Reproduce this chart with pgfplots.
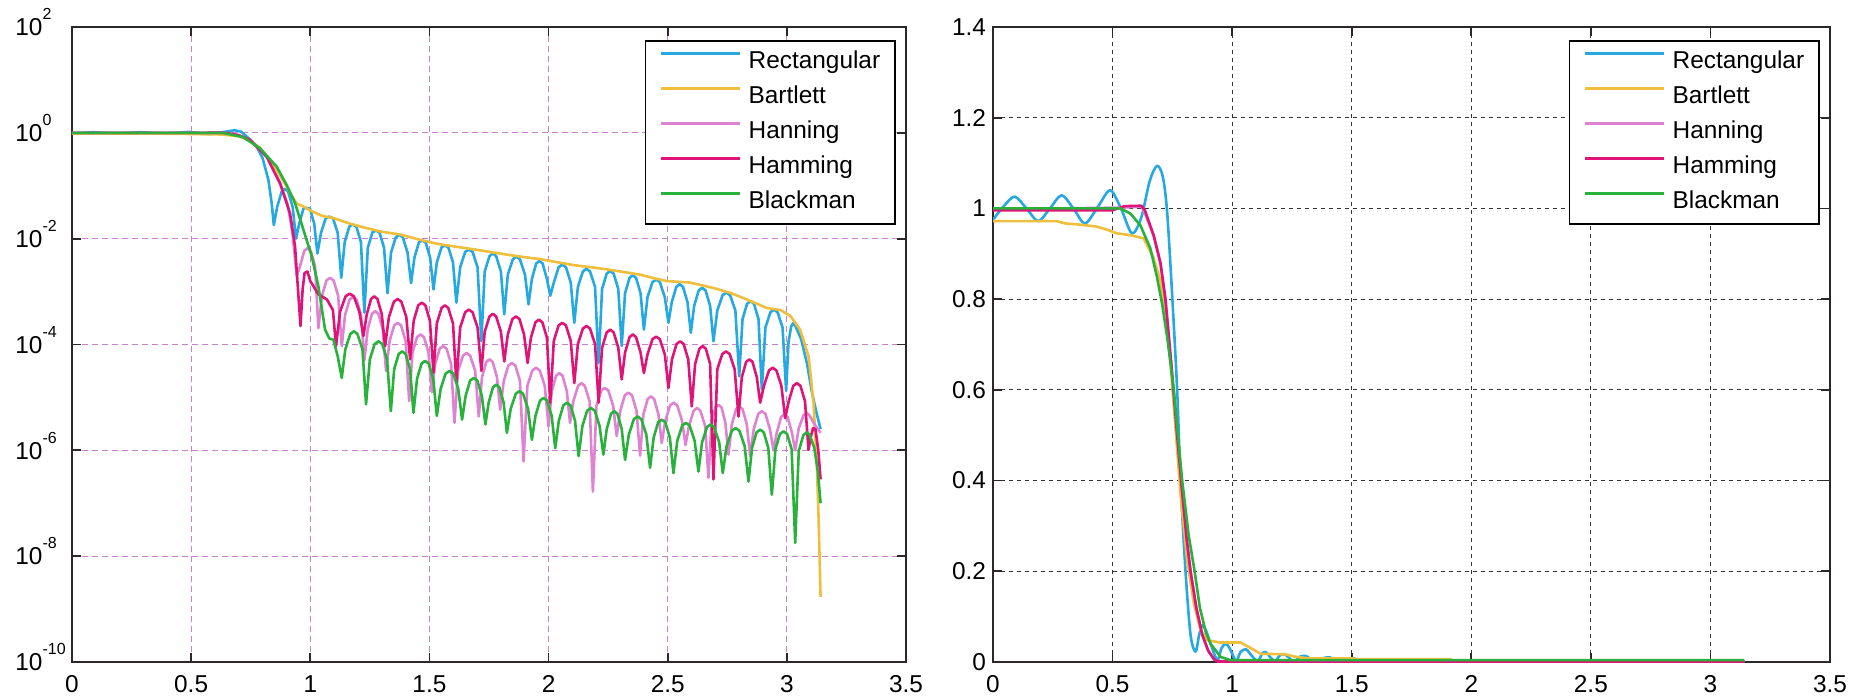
\documentclass[border=0pt]{standalone}
\usepackage{pgfplots}
\pgfplotsset{compat=1.18}
\usepackage{pgfplotstable}
\usepackage{fontspec}
\setmainfont{Liberation Sans}

\definecolor{cRect}{RGB}{38,168,224}
\definecolor{cBart}{RGB}{238,190,60}
\definecolor{cHann}{RGB}{222,130,210}
\definecolor{cHamm}{RGB}{222,20,120}
\definecolor{cBlack}{RGB}{40,178,60}
\definecolor{gridPink}{RGB}{200,130,205}
\definecolor{axisGray}{RGB}{45,40,40}

% ---------- magnitude responses, log scale ----------
\pgfplotstableread{
x y
0 0.975
0.09 1.026
0.19 0.972
0.29 1.029
0.385 0.967
0.49 1.04
0.58 0.945
0.683 1.12
0.71 1.05
0.733 0.85
0.755 0.70
0.775 0.55
0.80 0.33
0.824 0.13
0.838 0.047
0.847 0.018
0.861 3.98e-2
0.880 7.76e-2
0.8935 8.71e-2
0.907 7.76e-2
0.926 3.98e-2
0.940 1.0e-2
0.9535 1.91e-2
0.9715 3.72e-2
0.985 3.8e-2
0.9985 3.72e-2
1.0165 1.91e-2
1.030 5.25e-3
1.045 1.29e-2
1.065 2.45e-2
1.080 2.6e-2
1.095 2.45e-2
1.115 1.29e-2
1.130 1.82e-3
1.1445 8.71e-3
1.164 1.70e-2
1.1785 1.85e-2
1.193 1.70e-2
1.2125 8.71e-3
1.227 3.98e-4
1.2415 6.76e-3
1.261 1.32e-2
1.2755 1.42e-2
1.290 1.32e-2
1.3095 6.76e-3
1.324 9.33e-4
1.339 5.50e-3
1.359 1.07e-2
1.3735 1.17e-2
1.388 1.07e-2
1.408 5.50e-3
1.423 1.45e-3
1.437 4.37e-3
1.456 8.51e-3
1.470 9.2e-3
1.484 8.51e-3
1.503 4.37e-3
1.517 1.10e-3
1.531 3.55e-3
1.551 6.92e-3
1.565 7.4e-3
1.579 6.92e-3
1.599 3.55e-3
1.613 6.17e-4
1.629 2.88e-3
1.650 5.62e-3
1.6655 6.2e-3
1.681 5.62e-3
1.702 2.88e-3
1.718 1.15e-4
1.732 2.40e-3
1.752 4.68e-3
1.766 5.25e-3
1.780 4.68e-3
1.800 2.40e-3
1.814 3.72e-4
1.829 2.09e-3
1.850 4.07e-3
1.865 4.57e-3
1.880 4.07e-3
1.901 2.09e-3
1.916 5.75e-4
1.930 1.74e-3
1.948 3.39e-3
1.9615 3.80e-3
1.975 3.39e-3
1.993 1.74e-3
2.007 8.32e-4
2.022 1.48e-3
2.042 2.88e-3
2.0575 3.23e-3
2.073 2.88e-3
2.093 1.48e-3
2.108 2.57e-4
2.123 1.23e-3
2.144 2.40e-3
2.159 2.69e-3
2.174 2.40e-3
2.195 1.23e-3
2.210 4.47e-5
2.2245 1.12e-3
2.244 2.19e-3
2.2585 2.46e-3
2.273 2.19e-3
2.2925 1.12e-3
2.307 9.33e-5
2.321 9.33e-4
2.340 1.82e-3
2.3535 2.04e-3
2.367 1.82e-3
2.386 9.33e-4
2.400 1.91e-4
2.415 7.76e-4
2.436 1.51e-3
2.4515 1.69e-3
2.467 1.51e-3
2.488 7.76e-4
2.503 2.57e-4
2.517 6.31e-4
2.536 1.23e-3
2.550 1.38e-3
2.564 1.23e-3
2.583 6.31e-4
2.597 1.66e-4
2.611 5.37e-4
2.630 1.05e-3
2.6445 1.18e-3
2.659 1.05e-3
2.678 5.37e-4
2.692 1.15e-4
2.708 4.37e-4
2.730 8.51e-4
2.746 9.55e-4
2.762 8.51e-4
2.784 4.37e-4
2.800 2.51e-5
2.814 3.02e-4
2.833 5.89e-4
2.8475 6.61e-4
2.862 5.89e-4
2.881 3.02e-4
2.895 1.41e-5
2.910 2.09e-4
2.931 4.07e-4
2.946 4.57e-4
2.961 4.07e-4
2.982 2.09e-4
2.997 1.32e-5
3.007 1.12e-4
3.018 2.19e-4
3.026 2.51e-4
3.035 2.29e-4
3.060 1.26e-4
3.084 4.47e-5
3.105 1.26e-5
3.125 5.01e-6
3.1416 2.51e-6
}\rectL

\pgfplotstableread{
x y
0 0.972
0.27 0.970
0.35 0.965
0.45 0.958
0.52 0.945
0.63 0.93
0.70 0.86
0.746 0.72
0.789 0.52
0.817 0.36
0.859 0.20
0.90 0.098
0.925 0.062
0.943 0.046
0.97 0.041
1.0 0.034
1.05 0.027
1.097 0.0245
1.17 0.019
1.237 0.0158
1.30 0.0135
1.377 0.012
1.45 0.0098
1.517 0.0083
1.546 0.0078
1.616 0.0070
1.686 0.0063
1.755 0.0056
1.825 0.0050
1.895 0.0045
1.965 0.0041
2.035 0.0036
2.105 0.00316
2.175 0.0029
2.244 0.00263
2.314 0.00235
2.384 0.00209
2.44 0.0018
2.496 0.00158
2.594 0.00148
2.692 0.00117
2.762 0.00095
2.832 0.00071
2.916 0.00049
2.972 0.00045
3.014 0.00035
3.056 0.00019
3.091 6.0e-5
3.112 7.9e-6
3.126 5.0e-7
3.133 5.6e-8
3.1416 1.7e-9
}\bartL

\pgfplotstableread{
x y
0 0.996
0.55 1.0
0.62 1.004
0.65 0.99
0.70 0.90
0.746 0.74
0.817 0.355
0.873 0.110
0.905 0.045
0.925 0.013
0.943 1.95e-3
0.957 3.02e-3
0.975 5.89e-3
0.9885 6.61e-3
1.002 5.89e-3
1.020 3.02e-3
1.034 2.04e-4
1.049 8.32e-4
1.068 1.62e-3
1.083 1.82e-3
1.098 1.62e-3
1.117 8.32e-4
1.132 9.33e-5
1.146 3.63e-4
1.165 7.08e-4
1.1795 7.94e-4
1.194 7.08e-4
1.213 3.63e-4
1.227 5.01e-5
1.241 1.95e-4
1.259 3.80e-4
1.2725 4.27e-4
1.286 3.80e-4
1.304 1.95e-4
1.318 3.16e-5
1.333 1.17e-4
1.352 2.29e-4
1.3665 2.57e-4
1.381 2.29e-4
1.400 1.17e-4
1.415 8.51e-6
1.429 7.08e-5
1.448 1.38e-4
1.4625 1.55e-4
1.477 1.38e-4
1.496 7.08e-5
1.510 1.26e-5
1.524 4.27e-5
1.543 8.32e-5
1.5575 9.33e-5
1.572 8.32e-5
1.591 4.27e-5
1.605 3.31e-6
1.620 3.16e-5
1.641 6.17e-5
1.656 6.92e-5
1.671 6.17e-5
1.692 3.16e-5
1.707 4.37e-6
1.7205 2.40e-5
1.7385 4.68e-5
1.752 5.25e-5
1.7655 4.68e-5
1.7835 2.40e-5
1.797 5.89e-6
1.812 2.04e-5
1.831 3.98e-5
1.846 4.47e-5
1.861 3.98e-5
1.880 2.04e-5
1.895 6.17e-7
1.911 1.66e-5
1.932 3.24e-5
1.9475 3.63e-5
1.963 3.24e-5
1.984 1.66e-5
2.000 2.82e-6
2.0135 1.32e-5
2.0315 2.57e-5
2.045 2.88e-5
2.0585 2.57e-5
2.0765 1.32e-5
2.090 3.31e-6
2.104 8.51e-6
2.124 1.66e-5
2.138 1.86e-5
2.152 1.66e-5
2.172 8.51e-6
2.186 1.66e-7
2.201 6.92e-6
2.221 1.35e-5
2.236 1.51e-5
2.251 1.35e-5
2.271 6.92e-6
2.286 1.86e-6
2.301 5.62e-6
2.320 1.10e-5
2.335 1.23e-5
2.350 1.10e-5
2.369 5.62e-6
2.384 7.94e-7
2.398 4.79e-6
2.416 9.33e-6
2.4295 1.05e-5
2.443 9.33e-6
2.461 4.79e-6
2.475 1.38e-6
2.490 3.63e-6
2.510 7.08e-6
2.525 7.94e-6
2.540 7.08e-6
2.560 3.63e-6
2.575 1.26e-6
2.589 2.88e-6
2.609 5.62e-6
2.623 6.31e-6
2.637 5.62e-6
2.657 2.88e-6
2.671 3.02e-7
2.684 3.31e-6
2.700 6.46e-6
2.713 7.24e-6
2.726 6.46e-6
2.742 3.31e-6
2.755 8.32e-7
2.769 3.09e-6
2.787 6.03e-6
2.8005 6.76e-6
2.814 6.03e-6
2.832 3.09e-6
2.846 7.76e-7
2.861 2.51e-6
2.880 4.90e-6
2.895 5.50e-6
2.910 4.90e-6
2.929 2.51e-6
2.944 1.0e-6
2.958 2.19e-6
2.976 4.27e-6
2.9895 4.79e-6
3.003 4.27e-6
3.021 2.19e-6
3.035 1.0e-6
3.050 2.63e-6
3.070 4.57e-6
3.0825 5.13e-6
3.095 4.57e-6
3.115 3.16e-6
3.1416 2.14e-6
}\hannL

\pgfplotstableread{
x y
0 0.996
0.55 1.0
0.62 1.006
0.65 0.99
0.70 0.90
0.746 0.74
0.817 0.355
0.873 0.112
0.915 0.030
0.936 7.2e-3
0.959 2.24e-4
0.968 1.12e-3
0.976 2.24e-3
0.988 2.40e-3
1.000 1.58e-3
1.034 8.91e-4
1.070 7.08e-4
1.095 4.47e-4
1.108 9.33e-5
1.125 4.17e-4
1.148 8.13e-4
1.1655 9.12e-4
1.183 8.13e-4
1.206 4.17e-4
1.223 1.45e-4
1.237 3.72e-4
1.255 7.24e-4
1.2685 8.13e-4
1.282 7.24e-4
1.300 3.72e-4
1.314 9.33e-5
1.330 3.31e-4
1.351 6.46e-4
1.3665 7.24e-4
1.382 6.46e-4
1.403 3.31e-4
1.419 5.25e-5
1.434 2.82e-4
1.453 5.50e-4
1.468 6.17e-4
1.483 5.50e-4
1.502 2.82e-4
1.517 2.95e-5
1.531 2.51e-4
1.551 4.90e-4
1.565 5.50e-4
1.579 4.90e-4
1.599 2.51e-4
1.613 1.86e-5
1.629 2.09e-4
1.650 4.07e-4
1.6655 4.57e-4
1.681 4.07e-4
1.702 2.09e-4
1.718 3.16e-5
1.732 1.74e-4
1.752 3.39e-4
1.766 3.80e-4
1.780 3.39e-4
1.800 1.74e-4
1.814 4.79e-5
1.829 1.55e-4
1.848 3.02e-4
1.863 3.39e-4
1.878 3.02e-4
1.897 1.55e-4
1.912 4.47e-5
1.926 1.35e-4
1.945 2.63e-4
1.9595 2.95e-4
1.974 2.63e-4
1.993 1.35e-4
2.007 7.94e-6
2.022 1.17e-4
2.042 2.29e-4
2.0575 2.57e-4
2.073 2.29e-4
2.093 1.17e-4
2.108 1.86e-5
2.123 1.02e-4
2.144 2.00e-4
2.159 2.24e-4
2.174 2.00e-4
2.195 1.02e-4
2.210 7.94e-6
2.2245 8.71e-5
2.244 1.70e-4
2.2585 1.91e-4
2.273 1.70e-4
2.2925 8.71e-5
2.307 2.19e-5
2.321 7.08e-5
2.340 1.38e-4
2.3535 1.55e-4
2.367 1.38e-4
2.386 7.08e-5
2.400 2.88e-5
2.415 6.46e-5
2.436 1.26e-4
2.4515 1.41e-4
2.467 1.26e-4
2.488 6.46e-5
2.503 1.51e-5
2.518 5.25e-5
2.537 1.02e-4
2.552 1.15e-4
2.567 1.02e-4
2.586 5.25e-5
2.601 6.76e-6
2.615 4.27e-5
2.633 8.32e-5
2.6465 9.33e-5
2.660 8.32e-5
2.678 4.27e-5
2.692 2.82e-7
2.708 3.39e-5
2.729 6.61e-5
2.7445 7.41e-5
2.760 6.61e-5
2.781 3.39e-5
2.797 4.37e-6
2.811 2.40e-5
2.829 4.68e-5
2.8425 5.25e-5
2.856 4.68e-5
2.874 2.40e-5
2.888 7.94e-6
2.904 1.66e-5
2.925 3.24e-5
2.9405 3.63e-5
2.956 3.24e-5
2.977 1.66e-5
2.993 4.07e-6
3.008 8.51e-6
3.027 1.66e-5
3.042 1.86e-5
3.057 1.66e-5
3.076 8.51e-6
3.091 1.02e-6
3.100 1.78e-6
3.110 2.63e-6
3.120 2.51e-6
3.132 1.0e-6
3.1416 2.82e-7
}\hammL

\pgfplotstableread{
x y
0 1.0
0.55 1.0
0.634 0.998
0.718 0.83
0.789 0.51
0.859 0.23
0.90 0.105
0.936 0.047
0.971 0.0148
1.006 4.68e-3
1.034 1.26e-3
1.062 1.91e-4
1.080 1.30e-4
1.097 1.23e-4
1.115 6.0e-5
1.132 2.34e-5
1.147 8.13e-5
1.168 1.58e-4
1.183 1.78e-4
1.198 1.58e-4
1.219 8.13e-5
1.234 7.41e-6
1.250 5.25e-5
1.270 1.02e-4
1.286 1.15e-4
1.302 1.02e-4
1.322 5.25e-5
1.338 5.50e-6
1.352 3.39e-5
1.371 6.61e-5
1.3855 7.41e-5
1.400 6.61e-5
1.419 3.39e-5
1.433 5.13e-6
1.448 2.24e-5
1.467 4.37e-5
1.482 4.90e-5
1.497 4.37e-5
1.516 2.24e-5
1.531 4.47e-6
1.547 1.45e-5
1.568 2.82e-5
1.584 3.16e-5
1.600 2.82e-5
1.621 1.45e-5
1.637 3.80e-6
1.652 1.07e-5
1.671 2.09e-5
1.686 2.34e-5
1.701 2.09e-5
1.720 1.07e-5
1.735 3.09e-6
1.7485 7.94e-6
1.7665 1.55e-5
1.780 1.74e-5
1.7935 1.55e-5
1.8115 7.94e-6
1.825 2.14e-6
1.841 6.03e-6
1.862 1.17e-5
1.8775 1.32e-5
1.893 1.17e-5
1.914 6.03e-6
1.930 1.58e-6
1.945 4.47e-6
1.964 8.71e-6
1.979 9.77e-6
1.994 8.71e-6
2.013 4.47e-6
2.028 1.10e-6
2.043 3.63e-6
2.062 7.08e-6
2.077 7.94e-6
2.092 7.08e-6
2.111 3.63e-6
2.126 7.76e-7
2.142 2.88e-6
2.162 5.62e-6
2.178 6.31e-6
2.194 5.62e-6
2.214 2.88e-6
2.230 8.32e-7
2.244 2.51e-6
2.262 4.90e-6
2.2755 5.50e-6
2.289 4.90e-6
2.307 2.51e-6
2.321 6.61e-7
2.337 2.00e-6
2.358 3.89e-6
2.3735 4.37e-6
2.389 3.89e-6
2.410 2.00e-6
2.426 4.68e-7
2.441 1.74e-6
2.460 3.39e-6
2.475 3.80e-6
2.490 3.39e-6
2.509 1.74e-6
2.524 3.72e-7
2.540 1.51e-6
2.561 2.95e-6
2.5765 3.31e-6
2.592 2.95e-6
2.613 1.51e-6
2.629 3.98e-7
2.644 1.41e-6
2.665 2.75e-6
2.680 3.09e-6
2.695 2.75e-6
2.716 1.41e-6
2.731 3.72e-7
2.747 1.20e-6
2.769 2.34e-6
2.785 2.63e-6
2.801 2.34e-6
2.823 1.20e-6
2.839 2.57e-7
2.854 1.12e-6
2.873 2.19e-6
2.888 2.46e-6
2.903 2.19e-6
2.922 1.12e-6
2.937 1.45e-7
2.952 1.05e-6
2.971 2.04e-6
2.986 2.29e-6
3.001 2.04e-6
3.020 1.05e-6
3.035 1.78e-8
3.050 9.77e-7
3.069 1.91e-6
3.082 2.19e-6
3.095 2.00e-6
3.115 1.12e-6
3.130 3.98e-7
3.1416 1.0e-7
}\blackL

% ---------- magnitude responses, linear scale ----------
\pgfplotstableread{
x y
0 0.975
0.045 1.005
0.091 1.026
0.14 1.0
0.189 0.972
0.238 1.0
0.287 1.029
0.336 1.0
0.385 0.967
0.44 1.005
0.49 1.040
0.535 1.0
0.581 0.945
0.62 0.98
0.655 1.06
0.686 1.094
0.71 1.07
0.728 0.993
0.749 0.81
0.770 0.60
0.784 0.40
0.805 0.20
0.826 0.06
0.847 0.023
0.862 0.06
0.875 0.081
0.89 0.07
0.91 0.04
0.938 0.004
0.955 0.03
0.973 0.04
0.99 0.03
1.016 0.002
1.035 0.022
1.058 0.028
1.08 0.015
1.107 0.002
1.125 0.018
1.14 0.022
1.16 0.01
1.18 0.002
1.20 0.015
1.22 0.017
1.24 0.008
1.26 0.001
1.285 0.012
1.31 0.013
1.335 0.004
1.36 0.001
1.385 0.009
1.41 0.010
1.435 0.003
1.46 0.001
1.485 0.007
1.51 0.008
1.535 0.002
1.56 0.001
1.6 0.004
1.65 0.001
1.8 0.002
3.1416 0.002
}\rectR

\pgfplotstableread{
x y
0 0.972
0.266 0.972
0.30 0.967
0.35 0.965
0.434 0.96
0.483 0.952
0.518 0.945
0.574 0.941
0.63 0.934
0.672 0.89
0.70 0.84
0.72 0.78
0.742 0.663
0.763 0.517
0.784 0.37
0.812 0.224
0.84 0.129
0.868 0.07
0.896 0.048
0.95 0.043
1.035 0.043
1.08 0.030
1.12 0.018
1.22 0.017
1.26 0.012
1.32 0.008
1.5 0.008
1.52 0.006
1.92 0.006
}\bartR

\pgfplotstableread{
x y
0 0.998
0.55 1.002
0.62 1.004
0.63 0.996
0.672 0.94
0.70 0.88
0.721 0.80
0.745 0.66
0.77 0.50
0.79 0.38
0.81 0.27
0.826 0.20
0.85 0.12
0.875 0.06
0.90 0.024
0.925 0.005
0.945 0.001
3.1416 0.001
}\hannR

\pgfplotstableread{
x y
0 0.996
0.5 0.996
0.55 1.005
0.62 1.006
0.635 0.996
0.672 0.94
0.70 0.88
0.721 0.80
0.745 0.66
0.77 0.50
0.79 0.38
0.81 0.27
0.826 0.20
0.85 0.12
0.875 0.06
0.90 0.025
0.925 0.006
0.94 0.001
3.1416 0.001
}\hammR

\pgfplotstableread{
x y
0 1.0
0.532 1.0
0.574 0.989
0.616 0.963
0.658 0.912
0.685 0.85
0.707 0.79
0.73 0.71
0.756 0.60
0.775 0.49
0.791 0.40
0.818 0.28
0.843 0.20
0.865 0.12
0.89 0.065
0.91 0.04
0.952 0.011
0.994 0.004
3.1416 0.004
}\blackR

% small raised exponent for the decade labels
\newcommand{\ep}[1]{\raisebox{8pt}{\fontsize{8}{8}\selectfont#1}}

\pgfplotsset{
  winstyle/.style={
    scale only axis,
    width=417pt, height=317.5pt,
    xmin=0, xmax=3.5,
    xtick={0,0.5,1,1.5,2,2.5,3,3.5},
    tick align=inside,
    major tick length=4.5pt,
    axis line style={draw=axisGray, line width=0.9pt},
    tick style={draw=axisGray, line width=0.9pt},
    tick label style={font=\fontsize{12.2}{14}\selectfont},
    /pgf/number format/assume math mode=true,
    xticklabel style={yshift=-3.4pt},
    grid=major,
    legend cell align=left,
    legend style={
      at={(1,1)}, anchor=north east, xshift=-5pt, yshift=-6.5pt,
      draw=black, line width=0.8pt, fill=white,
      inner xsep=7.5pt, inner ysep=5pt,
      font=\fontsize{12.2}{14}\selectfont,
      row sep=5.9pt,
      nodes={inner sep=0pt, text height=9pt, text depth=2.6pt},
      /tikz/every odd column/.append style={column sep=3.5pt},
    },
    legend image code/.code={\draw[#1, line width=1.15pt] (0pt,4.5pt) -- (39.5pt,4.5pt);},
  },
  curve/.style={line width=1.3pt, line join=round},
}

\begin{document}
\begin{tikzpicture}
\path[use as bounding box] (0,0) rectangle (929pt,348.5pt);

% log-magnitude view
\begin{axis}[winstyle,
  at={(36pt,17.5pt)}, anchor=south west,
  ymode=log, ymin=1e-10, ymax=1e2,
  ytick={1e-10,1e-8,1e-6,1e-4,1e-2,1,1e2},
  yticklabels={10\ep{-10},10\ep{-8},10\ep{-6},10\ep{-4},10\ep{-2},10\ep{0},10\ep{2}},
  yminorticks=false,
  yticklabel style={anchor=base west, inner sep=0pt, xshift=-28.5pt, yshift=-4.4pt},
  major grid style={draw=gridPink, dash pattern=on 3pt off 2pt, line width=0.6pt},
]
\addplot[curve, cRect] table {\rectL};
\addplot[curve, cBart] table {\bartL};
\addplot[curve, cHann] table {\hannL};
\addplot[curve, cHamm] table {\hammL};
\addplot[curve, cBlack] table {\blackL};
\legend{Rectangular,Bartlett,Hanning,Hamming,Blackman}
\end{axis}

% linear-magnitude view
\begin{axis}[winstyle,
  at={(496.5pt,17.5pt)}, anchor=south west,
  width=418.5pt,
  ymin=0, ymax=1.4,
  ytick={0,0.2,0.4,0.6,0.8,1,1.2,1.4},
  major grid style={draw=black!80, dash pattern=on 2pt off 2pt, line width=0.6pt},
]
\addplot[curve, cRect, smooth, tension=0.5] table {\rectR};
\addplot[curve, cBart] table {\bartR};
\addplot[curve, cHann] table {\hannR};
\addplot[curve, cHamm] table {\hammR};
\addplot[curve, cBlack] table {\blackR};
\legend{Rectangular,Bartlett,Hanning,Hamming,Blackman}
\end{axis}
\end{tikzpicture}
\end{document}
